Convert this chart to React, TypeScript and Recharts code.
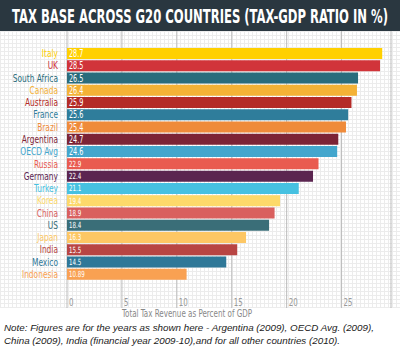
import React from "react";
import { BarChart, Bar, XAxis, YAxis, CartesianGrid, Cell, LabelList } from "recharts";

const countries = ["Italy", "UK", "South Africa", "Canada", "Australia", "France", "Brazil", "Argentina", "OECD Avg", "Russia", "Germany", "Turkey", "Korea", "China", "US", "Japan", "India", "Mexico", "Indonesia"];
const values = [28.7, 28.5, 26.5, 26.4, 25.9, 25.6, 25.4, 24.7, 24.6, 22.9, 22.4, 21.1, 19.4, 18.9, 18.4, 16.3, 15.5, 14.5, 10.89];
const valueLabels = ["28.7", "28.5", "26.5", "26.4", "25.9", "25.6", "25.4", "24.7", "24.6", "22.9", "22.4", "21.1", "19.4", "18.9", "18.4", "16.3", "15.5", "14.5", "10.89"];
const colors = ["#FFD000", "#D1343A", "#2A6C7C", "#F4B236", "#B42B27", "#2F7D9B", "#EF8B3A", "#7C2436", "#43A6CD", "#E95B50", "#5B2550", "#46C1E1", "#FDD96A", "#D9605E", "#3A6E78", "#FDC764", "#B84543", "#2F7898", "#F9A152"];
const xTicks = [0, 5, 10, 15, 20, 25];

const title = "TAX BASE ACROSS G20 COUNTRIES (TAX-GDP RATIO IN %)";
const axisTitle = "Total Tax Revenue as Percent of GDP";
const noteLines = [
  "Note: Figures are for the years as shown here - Argentina (2009), OECD Avg. (2009),",
  "China (2009), India (financial year 2009-10),and for all other countries (2010).",
];

const data = countries.map((c, i) => ({ name: c, value: values[i], label: valueLabels[i], color: colors[i] }));

const COND = "'DejaVu Sans Condensed', 'Liberation Sans Narrow', sans-serif";
const TITLE_SCALE = 0.644;

const YTick = (props: any) => {
  const { x, y, payload, index } = props;
  return (
    <text x={0} y={0} transform={`translate(${x - 1},${y + 4}) scale(0.79,1)`} textAnchor="end" fontFamily={COND} fontSize={10.5} fill={colors[index]}>
      {payload.value}
    </text>
  );
};

const XTick = (props: any) => {
  const { x, payload } = props;
  return (
    <text x={0} y={0} transform={`translate(${x + 2},${306}) scale(0.75,1)`} textAnchor="start" fontFamily={COND} fontSize={10.5} fill="#999">
      {payload.value}
    </text>
  );
};

const ValueLabel = (props: any) => {
  const { x, y, height, value, index } = props;
  const big = index < 9;
  return (
    <text x={0} y={0} transform={`translate(${x + 2},${y + height / 2 + (big ? 3.6 : 3)}) scale(0.72,1)`} textAnchor="start" fontFamily={COND} fontSize={big ? 10 : 8.5} fill="#fff">
      {value}
    </text>
  );
};

export default function App() {
  return (
    <div style={{ position: "absolute", left: 0, top: 0, width: 400, height: 350, background: "#fff", overflow: "hidden" }}>
      <div
        style={{
          position: "absolute", left: 0, top: 31, width: 400, height: 277,
          backgroundImage:
            "repeating-linear-gradient(0deg, #ececec 0px, #ececec 1px, transparent 1px, transparent 4px), repeating-linear-gradient(90deg, #ececec 0px, #ececec 1px, transparent 1px, transparent 4px)",
        }}
      />
      <div style={{ position: "absolute", left: 0, top: 0, width: 400, height: 31, background: "#2A3740" }}>
        <svg width={400} height={31}>
          <text x={0} y={0} transform={`translate(200,23) scale(${TITLE_SCALE},1)`} textAnchor="middle" fontFamily={COND} fontWeight="bold" fontSize={20} fill="#fff" textLength={376 / TITLE_SCALE} lengthAdjust="spacingAndGlyphs">
            {title}
          </text>
        </svg>
      </div>
      <div style={{ position: "absolute", left: 0, top: 0 }}>
        <BarChart width={400} height={350} data={data} layout="vertical" margin={{ top: 47, right: 9, left: 0, bottom: 40 }} barCategoryGap={1}>
          <CartesianGrid horizontal={false} vertical={true} y={31} height={277} stroke="#bbb" />
          <XAxis type="number" domain={[0, 29.5]} ticks={xTicks} axisLine={false} tickLine={false} height={30} tick={<XTick />} interval={0} />
          <YAxis type="category" dataKey="name" width={67} axisLine={false} tickLine={false} tick={<YTick />} interval={0} />
          <Bar dataKey="value" barSize={11} isAnimationActive={false}>
            {data.map((d, i) => (
              <Cell key={i} fill={d.color} />
            ))}
            <LabelList dataKey="label" content={<ValueLabel />} />
          </Bar>
        </BarChart>
      </div>
      <svg style={{ position: "absolute", left: 0, top: 308 }} width={400} height={12}>
        <text x={187} y={9} textAnchor="middle" fontFamily={COND} fontSize={10.5} fill="#888" textLength={130} lengthAdjust="spacingAndGlyphs">
          {axisTitle}
        </text>
      </svg>
      <div style={{ position: "absolute", left: 4, top: 321, fontFamily: "'Liberation Sans', Arial, sans-serif", fontStyle: "italic", fontSize: 9.8, lineHeight: "13px", color: "#222", whiteSpace: "nowrap" }}>
        {noteLines.map((l, i) => (
          <div key={i}>{l}</div>
        ))}
      </div>
    </div>
  );
}
